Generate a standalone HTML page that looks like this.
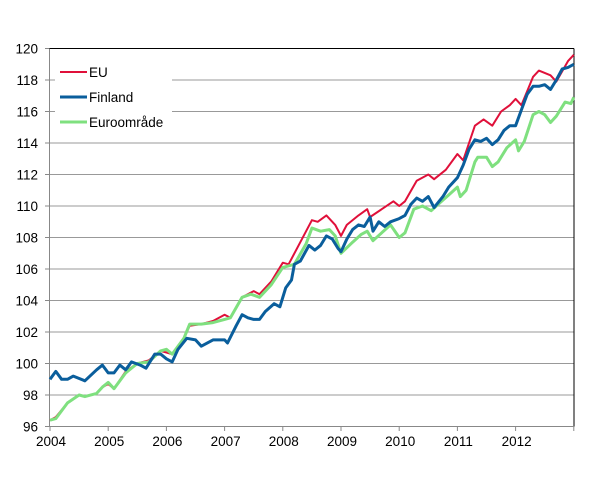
<!DOCTYPE html>
<html><head><meta charset="utf-8"><style>
body{margin:0;background:#fff;width:607px;height:474px;overflow:hidden}
text{font-family:"Liberation Sans",sans-serif;font-size:13.5px;fill:#000}
</style></head><body>
<svg id="s" width="607" height="474" xmlns="http://www.w3.org/2000/svg">
<g id="grid"></g>
<line x1="49" y1="48.5" x2="574" y2="48.5" stroke="#000" stroke-width="1"/>
<line x1="574" y1="48.5" x2="574" y2="426.5" stroke="#000" stroke-width="1"/>
<line x1="49.5" y1="48.5" x2="49.5" y2="426.5" stroke="#888" stroke-width="1"/>
<line x1="49" y1="426.5" x2="574" y2="426.5" stroke="#888" stroke-width="1"/>
<g id="lines"></g>
<rect x="55" y="60" width="117" height="75" fill="#fff"/>
<line x1="60" y1="72" x2="87" y2="72" stroke="#e0103a" stroke-width="2"/>
<text x="89" y="77">EU</text>
<line x1="60" y1="97" x2="87" y2="97" stroke="#0a5e9c" stroke-width="3"/>
<text x="89" y="102">Finland</text>
<line x1="60" y1="122" x2="87" y2="122" stroke="#7fe07f" stroke-width="3"/>
<text x="89" y="127">Euroområde</text>
</svg>
<script>
var X=function(t){return 50+58.2*(t-2004)},Y=function(v){return 426.5-(v-96)*15.75};
var g=document.getElementById('grid'),h='';
for(var v=96;v<=120;v+=2){var y=Y(v);if(v>96&&v<120)h+='<line x1="49" y1="'+y+'" x2="574" y2="'+y+'" stroke="#999" stroke-width="1"/>';
h+='<line x1="45" y1="'+y+'" x2="49" y2="'+y+'" stroke="#888"/>';
h+='<text x="38" y="'+(y+5)+'" text-anchor="end">'+v+'</text>';}
for(var t=2004;t<=2013;t++){var x=X(t);h+='<line x1="'+x+'" y1="426" x2="'+x+'" y2="431" stroke="#888"/>';if(t<2013)h+='<text x="'+(x+1)+'" y="446" text-anchor="middle">'+t+'</text>';}
g.innerHTML=h;
var eu=[2004.0,96.4,2004.1,96.6,2004.3,97.5,2004.5,98.0,2004.6,97.9,2004.8,98.1,2004.9,98.5,2005.0,98.7,2005.1,98.4,2005.3,99.5,2005.5,100.0,2005.7,100.2,2005.9,100.8,2006.0,100.7,2006.1,100.6,2006.3,101.6,2006.4,102.4,2006.6,102.5,2006.8,102.7,2007.0,103.1,2007.1,102.9,2007.3,104.2,2007.5,104.6,2007.6,104.4,2007.8,105.2,2008.0,106.4,2008.1,106.3,2008.3,107.7,2008.5,109.1,2008.6,109.0,2008.75,109.4,2008.9,108.8,2009.0,108.1,2009.1,108.8,2009.3,109.4,2009.45,109.8,2009.5,109.3,2009.7,109.8,2009.9,110.3,2010.0,110.0,2010.1,110.3,2010.3,111.6,2010.5,112.0,2010.6,111.7,2010.8,112.3,2011.0,113.3,2011.1,112.9,2011.3,115.1,2011.45,115.5,2011.6,115.1,2011.75,116.0,2011.9,116.4,2012.0,116.8,2012.1,116.4,2012.3,118.2,2012.4,118.6,2012.6,118.3,2012.7,117.9,2012.9,119.2,2013.0,119.6];
var fi=[2004.0,99.0,2004.1,99.5,2004.2,99.0,2004.3,99.0,2004.4,99.2,2004.6,98.9,2004.8,99.6,2004.9,99.9,2005.0,99.4,2005.1,99.4,2005.2,99.9,2005.3,99.6,2005.4,100.1,2005.55,99.9,2005.65,99.7,2005.8,100.6,2005.9,100.6,2006.0,100.3,2006.1,100.1,2006.2,100.9,2006.35,101.6,2006.5,101.5,2006.6,101.1,2006.8,101.5,2007.0,101.5,2007.05,101.3,2007.2,102.4,2007.3,103.1,2007.4,102.9,2007.5,102.8,2007.6,102.8,2007.7,103.3,2007.85,103.8,2007.95,103.6,2008.05,104.8,2008.15,105.3,2008.2,106.3,2008.3,106.5,2008.45,107.5,2008.55,107.2,2008.65,107.5,2008.75,108.1,2008.85,107.9,2008.95,107.3,2009.0,107.1,2009.1,107.9,2009.2,108.5,2009.3,108.8,2009.4,108.7,2009.5,109.3,2009.55,108.4,2009.65,109.0,2009.75,108.7,2009.85,109.0,2010.0,109.2,2010.1,109.4,2010.2,110.1,2010.3,110.5,2010.4,110.3,2010.5,110.6,2010.6,109.9,2010.75,110.6,2010.85,111.2,2011.0,111.8,2011.1,112.6,2011.2,113.6,2011.3,114.2,2011.4,114.1,2011.5,114.3,2011.6,113.9,2011.7,114.2,2011.8,114.8,2011.9,115.1,2012.0,115.1,2012.1,116.1,2012.2,117.1,2012.3,117.6,2012.4,117.6,2012.5,117.7,2012.6,117.4,2012.7,118.0,2012.8,118.7,2012.9,118.8,2013.0,119.0];
var ea=[2004.0,96.4,2004.1,96.5,2004.3,97.5,2004.5,98.0,2004.6,97.9,2004.8,98.1,2004.9,98.5,2005.0,98.8,2005.1,98.4,2005.3,99.4,2005.5,100.0,2005.7,100.1,2005.9,100.8,2006.0,100.9,2006.1,100.6,2006.3,101.6,2006.4,102.5,2006.6,102.5,2006.8,102.6,2007.0,102.8,2007.1,102.9,2007.3,104.2,2007.45,104.4,2007.6,104.2,2007.8,105.0,2008.0,106.1,2008.2,106.3,2008.4,107.6,2008.5,108.6,2008.65,108.4,2008.8,108.5,2008.9,108.1,2009.0,107.0,2009.2,107.7,2009.35,108.2,2009.45,108.4,2009.55,107.8,2009.7,108.3,2009.85,108.8,2010.0,108.0,2010.1,108.3,2010.25,109.8,2010.4,110.0,2010.55,109.7,2010.7,110.2,2010.85,110.7,2011.0,111.2,2011.05,110.6,2011.15,111.0,2011.3,112.8,2011.35,113.1,2011.5,113.1,2011.6,112.5,2011.7,112.8,2011.85,113.7,2012.0,114.2,2012.05,113.5,2012.15,114.1,2012.3,115.8,2012.4,116.0,2012.5,115.8,2012.6,115.3,2012.7,115.7,2012.85,116.6,2012.95,116.5,2013.0,116.9];
function pl(a,c,w){var p=[];for(var i=0;i<a.length;i+=2)p.push(X(a[i]).toFixed(1)+','+Y(a[i+1]).toFixed(1));return '<polyline fill="none" stroke="'+c+'" stroke-width="'+w+'" stroke-linejoin="round" points="'+p.join(' ')+'"/>';}
document.getElementById('lines').innerHTML=pl(eu,'#e0103a',2)+pl(ea,'#7fe07f',3)+pl(fi,'#0a5e9c',3);
</script>
</body></html>
